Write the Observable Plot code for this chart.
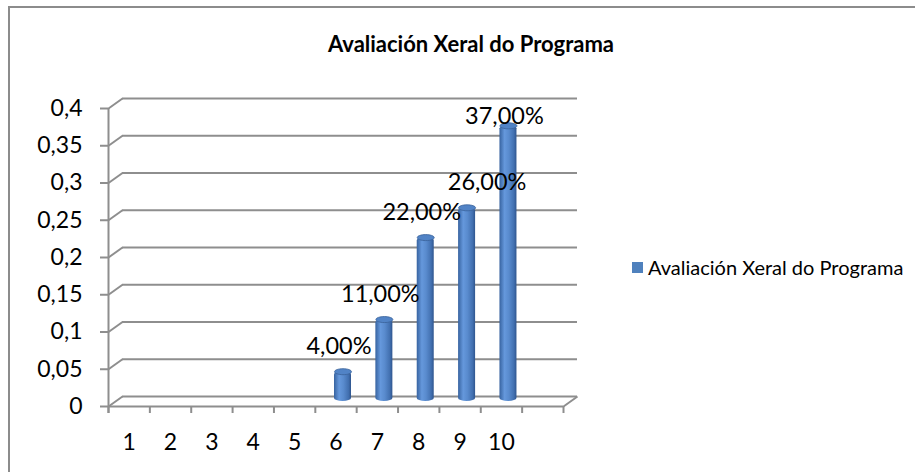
<!DOCTYPE html>
<html>
<head>
<meta charset="utf-8">
<script src="https://cdn.jsdelivr.net/npm/d3@7"></script>
<script src="https://cdn.jsdelivr.net/npm/@observablehq/plot@0.6"></script>
<style>
  html, body { margin: 0; padding: 0; background: #fff; }
  #wrap { position: relative; width: 915px; height: 472px; overflow: hidden; background: #fff; font-family: Lato, "Open Sans", sans-serif; color: #000; }
  #frame { position: absolute; left: 8px; top: 6px; width: 1000px; height: 1000px; border: 2px solid #8c8c8c; box-sizing: border-box; }
  #chart { position: absolute; left: 0; top: 0; }
  #title { position: absolute; left: 0; width: 942px; top: 33px; text-align: center; font-weight: bold; font-size: 22px; line-height: 1; }
  #legendSwatch { position: absolute; left: 632px; top: 262px; width: 11px; height: 11px; background: #4f81bd; }
  #legendText { position: absolute; left: 648px; top: 257px; font-size: 20px; line-height: 1; white-space: nowrap; }
</style>
</head>
<body>
<div id="wrap">
  <div id="frame"></div>
  <div id="chart"></div>
  <div id="title"></div>
  <div id="legendSwatch"></div>
  <div id="legendText"></div>
</div>
<script>
// ---- data ----
const chartTitle = "Avaliación Xeral do Programa";
const seriesName = "Avaliación Xeral do Programa";
const categories = ["1", "2", "3", "4", "5", "6", "7", "8", "9", "10", ""];
const values = [0, 0, 0, 0, 0, 0.04, 0.11, 0.22, 0.26, 0.37];
const valueLabels = ["", "", "", "", "", "4,00%", "11,00%", "22,00%", "26,00%", "37,00%"];
const yTicks = [0, 0.05, 0.1, 0.15, 0.2, 0.25, 0.3, 0.35, 0.4];
const yTickLabels = ["0", "0,05", "0,1", "0,15", "0,2", "0,25", "0,3", "0,35", "0,4"];

// ---- layout ----
const W = 915, H = 472;
const X0 = 108, X1 = 563, Y0 = 406, Y1 = 108;
const yMax = 0.4;
const nCat = categories.length;
const band = (X1 - X0) / nCat;          // px per category
const ppu = (Y0 - Y1) / yMax;           // px per value unit
const depthX = 14 / band, depthY = 10 / ppu;   // back-wall offset in data units
const halfW = 8.5 / band;
const yTickLen = 8 / band, xTickLen = 7 / ppu;
const grid = "#8e8e8e";

document.getElementById("title").textContent = chartTitle;
document.getElementById("legendText").textContent = seriesName;

const bars = values.map((v, i) => ({i, v, label: valueLabels[i]})).filter(d => d.v > 0);
const cx = d => d.i + 0.5 + depthX / 2;
const topY = d => d.v + depthY / 2;
const labelNudge = {8: 24};
const labelY = d => Math.min(topY(d) + 25 / ppu, (Y0 - 115.5) / ppu);

const ellipse = {
  draw(ctx) {
    const rx = 8.5, ry = 3, k = 0.5523;
    ctx.moveTo(rx, 0);
    ctx.bezierCurveTo(rx, ry * k, rx * k, ry, 0, ry);
    ctx.bezierCurveTo(-rx * k, ry, -rx, ry * k, -rx, 0);
    ctx.bezierCurveTo(-rx, -ry * k, -rx * k, -ry, 0, -ry);
    ctx.bezierCurveTo(rx * k, -ry, rx, -ry * k, rx, 0);
    ctx.closePath();
  }
};

const svg = Plot.plot({
  width: W,
  height: H,
  marginLeft: X0,
  marginRight: W - X1,
  marginTop: Y1,
  marginBottom: H - Y0,
  style: {fontFamily: "Lato, 'Open Sans', sans-serif", fontSize: "23px", color: "#000", background: "transparent", overflow: "visible"},
  x: {
    domain: [0, nCat],
    ticks: d3.range(nCat).map(i => i + 0.5),
    tickFormat: d => categories[Math.floor(d)],
    tickSize: 0,
    tickPadding: 27,
    label: null
  },
  y: {
    domain: [0, yMax],
    ticks: yTicks,
    tickFormat: d => yTickLabels[yTicks.findIndex(t => Math.abs(t - d) < 1e-9)],
    tickSize: 0,
    tickPadding: 26,
    label: null
  },
  marks: [
    // back wall gridlines (incl. floor back edge)
    Plot.ruleY(yTicks, {y: d => d + depthY, x1: depthX, x2: nCat + depthX, stroke: grid, strokeWidth: 2}),
    // left wall diagonals
    Plot.link(yTicks, {x1: 0, y1: d => d, x2: depthX, y2: d => d + depthY, stroke: grid, strokeWidth: 2}),
    // floor right edge
    Plot.link([nCat], {x1: d => d, y1: 0, x2: d => d + depthX, y2: depthY, stroke: grid, strokeWidth: 2}),
    // floor front edge
    Plot.ruleY([0], {x1: 0, x2: nCat, stroke: grid, strokeWidth: 2}),
    // y axis line
    Plot.ruleX([0], {y1: -xTickLen, y2: yMax, stroke: grid, strokeWidth: 2}),
    // y ticks
    Plot.ruleY(yTicks, {x1: -yTickLen, x2: 0, stroke: grid, strokeWidth: 2}),
    // x ticks at category boundaries
    Plot.ruleX(d3.range(nCat + 1), {y1: -xTickLen, y2: 0, stroke: grid, strokeWidth: 2}),
    // cylinders
    Plot.rect(bars, {
      x1: d => cx(d) - halfW, x2: d => cx(d) + halfW,
      y1: depthY / 2, y2: topY,
      fill: "url(#cyl)", rx: 8.5, ry: 3
    }),
    Plot.dot(bars, {x: cx, y: topY, symbol: ellipse, r: 3, fill: "#5183c6", stroke: "#3a6299", strokeWidth: 0.8}),
    // data labels
    Plot.text(bars, {
      x: d => cx(d) + (-4 + (labelNudge[d.i] || 0)) / band,
      y: labelY,
      text: "label",
      fontSize: 23.5,
      fill: "#000"
    })
  ]
});

d3.select(svg).insert("defs", ":first-child").html(
  `<linearGradient id="cyl" x1="0" x2="1" y1="0" y2="0">
     <stop offset="0%" stop-color="#3763a0"/>
     <stop offset="30%" stop-color="#6598dc"/>
     <stop offset="55%" stop-color="#598bce"/>
     <stop offset="85%" stop-color="#4270b0"/>
     <stop offset="100%" stop-color="#2f558e"/>
   </linearGradient>`
);

document.getElementById("chart").appendChild(svg);
</script>
</body>
</html>
